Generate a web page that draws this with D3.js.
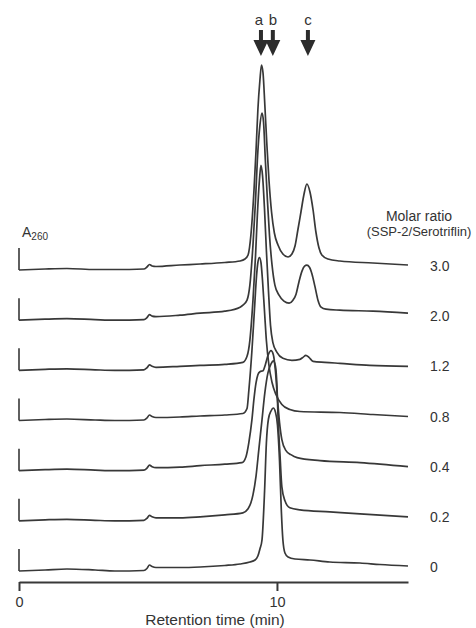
<!DOCTYPE html>
<html><head><meta charset="utf-8">
<script src="https://cdn.jsdelivr.net/npm/d3@7"></script>
<style>
body{margin:0;background:#fff}
svg{display:block}
text{font-family:"Liberation Sans",Arial,Helvetica,sans-serif;fill:#333}
</style>
</head><body>
<svg id="chart" width="476" height="628"></svg>
<script>
// ---- data (time in min, absorbance in arbitrary A260 units above each trace's baseline) ----
const ratios = ["3.0", "2.0", "1.2", "0.8", "0.4", "0.2", "0"];
const xTicks = [0, 10];
const peakLabels = ["a", "b", "c"];
const peakTimes = [9.38, 9.84, 11.20];

const trace_3_0 = [[0,0],[1.01,1],[1.86,1.5],[2.95,0.5],[3.72,0.5],[4.84,1],[4.96,3],[5.06,5.5],[5.16,4],[5.31,3.5],[6.24,5],[7.02,6],[7.98,7.5],[8.57,9],[8.76,11],[8.88,15],[8.99,35],[9.11,80],[9.19,120],[9.26,160],[9.34,190],[9.40,205],[9.46,197],[9.53,165],[9.61,125],[9.69,90],[9.79,58],[9.90,37],[10.04,25],[10.23,16],[10.43,13],[10.58,16],[10.70,24],[10.81,40],[10.93,58],[11.05,76],[11.16,86],[11.28,78],[11.40,60],[11.51,38],[11.63,22],[11.74,15],[11.98,11],[12.44,9],[13.72,7],[15.08,5]];
const trace_2_0 = [[0,0],[1.01,1],[1.86,1.5],[2.95,0.5],[3.72,0],[4.84,0.5],[4.96,2.5],[5.06,5.5],[5.16,4],[5.31,3.5],[6.24,5],[7.02,7],[7.98,9],[8.57,13],[8.68,15],[8.84,20],[8.95,35],[9.07,75],[9.17,120],[9.24,160],[9.34,195],[9.42,207],[9.48,198],[9.55,160],[9.63,120],[9.71,85],[9.81,55],[9.92,35],[10.08,25],[10.27,19],[10.47,17],[10.62,20],[10.74,26],[10.85,38],[10.97,49],[11.07,54],[11.16,55],[11.26,53],[11.36,46],[11.47,34],[11.59,20],[11.71,13],[11.90,11],[12.44,10],[13.72,9],[15.08,7]];
const trace_1_2 = [[0,0],[1.01,1],[1.86,1.5],[2.95,0.5],[3.72,0],[4.84,0.5],[4.96,2.5],[5.06,5.5],[5.16,4],[5.31,3],[6.24,4],[7.02,5],[7.98,6],[8.68,8],[8.84,14],[8.95,30],[9.07,70],[9.17,115],[9.24,155],[9.32,190],[9.38,205],[9.44,195],[9.52,160],[9.59,120],[9.67,80],[9.75,45],[9.84,28],[10.00,18],[10.23,12],[10.58,10],[10.89,11],[11.01,13],[11.12,15],[11.24,13],[11.40,9],[11.86,8],[12.44,7],[13.60,5],[15.08,4]];
const trace_0_8 = [[0,0],[1.01,1],[1.86,1.5],[2.95,0.5],[3.72,0],[4.84,0.5],[4.96,2.5],[5.06,5.5],[5.16,4],[5.31,3],[6.24,3.5],[7.02,4.5],[7.98,5.5],[8.68,7],[8.84,12],[8.91,30],[9.03,70],[9.13,112],[9.21,145],[9.26,158],[9.32,163],[9.38,158],[9.44,140],[9.52,108],[9.59,80],[9.69,55],[9.81,38],[9.96,26],[10.19,16],[10.50,11],[10.89,9],[12.44,8],[13.72,6],[15.08,4]];
const trace_0_4 = [[0,0],[1.01,1],[1.86,1.5],[2.95,0.5],[3.72,0],[4.84,0.5],[4.96,2.5],[5.06,5.5],[5.16,4],[5.31,3],[6.24,3.5],[7.02,5],[7.98,6.5],[8.64,8],[8.80,14],[8.91,28],[9.03,51],[9.11,72],[9.19,88],[9.26,96],[9.34,99],[9.46,100],[9.55,106],[9.65,115],[9.77,120],[9.86,116],[9.94,100],[10.02,72],[10.10,48],[10.19,31],[10.35,20],[10.54,16],[10.78,13],[11.67,10],[13.22,8],[15.08,4]];
const trace_0_2 = [[0,0],[1.01,1],[1.86,1.5],[2.95,0.5],[3.72,0],[4.84,0.5],[4.96,2.5],[5.06,5.5],[5.16,4],[5.31,3],[6.24,3],[7.02,4],[7.98,6],[8.68,8],[8.88,12],[8.99,18],[9.07,26],[9.19,45],[9.30,72],[9.42,101],[9.53,128],[9.65,148],[9.77,157],[9.86,160],[9.94,155],[10.00,135],[10.04,105],[10.12,65],[10.19,34],[10.31,20],[10.50,13],[10.89,11],[12.05,9],[13.22,7],[15.08,4]];
const trace_0 = [[0,0],[1.01,1],[1.86,2],[2.95,1],[3.72,0],[4.84,0.5],[4.96,2.5],[5.06,6],[5.16,4.5],[5.31,3.5],[6.24,3.5],[7.02,4],[7.98,5.5],[8.57,7],[8.95,9],[9.15,11],[9.26,15],[9.34,22],[9.42,31],[9.52,80],[9.59,128],[9.67,152],[9.77,160],[9.86,163],[9.94,159],[10.02,146],[10.10,110],[10.17,60],[10.23,31],[10.31,18],[10.43,14],[10.70,12],[11.28,11],[12.05,9],[13.22,8],[13.99,6.5],[15.08,5]];

const traces = [trace_3_0, trace_2_0, trace_1_2, trace_0_8, trace_0_4, trace_0_2, trace_0];

// ---- layout ----
const svg = d3.select("#chart");
const x = d3.scaleLinear().domain([0, 15.08]).range([19, 408]);
const offset = d3.scalePoint().domain(ratios).range([270, 571]);
const h = d3.scaleLinear().domain([0, 100]).range([0, 100]);
const ink = "#383838";

const line = d3.line()
  .x(d => x(d[0]))
  .curve(d3.curveMonotoneX);

ratios.forEach((r, i) => {
  const y0 = offset(r);
  const g = svg.append("g");
  g.append("line")
    .attr("x1", x(0)).attr("x2", x(0))
    .attr("y1", y0).attr("y2", y0 - h(22))
    .attr("stroke", ink).attr("stroke-width", 1.6);
  g.append("path")
    .datum(traces[i])
    .attr("d", line.y(d => y0 - h(d[1])))
    .attr("fill", "none")
    .attr("stroke", ink)
    .attr("stroke-width", 1.7)
    .attr("stroke-linejoin", "round");
  g.append("text")
    .attr("x", 430).attr("y", y0 + 1)
    .attr("font-size", 14)
    .text(r);
});

// x axis
const axis = d3.axisBottom(x).tickValues(xTicks).tickSize(9).tickSizeOuter(0).tickFormat(d3.format("d"));
const ax = svg.append("g").attr("transform", "translate(0,582)").call(axis);
ax.select(".domain").attr("stroke", ink).attr("stroke-width", 2.2);
ax.selectAll(".tick line").attr("stroke", ink).attr("stroke-width", 2);
ax.selectAll(".tick text").attr("font-size", 14.5).attr("fill", "#333").attr("dy", "0.9em")
  .style("font-family", '"Liberation Sans",Arial,sans-serif');

svg.append("text").attr("x", 215).attr("y", 625).attr("text-anchor", "middle")
  .attr("font-size", 15.5).text("Retention time (min)");

// y label
const yl = svg.append("text").attr("x", 22).attr("y", 237).attr("font-size", 14);
yl.append("tspan").text("A");
yl.append("tspan").attr("font-size", 10).attr("dy", 3).text("260");

// legend title
svg.append("text").attr("x", 419).attr("y", 221).attr("text-anchor", "middle")
  .attr("font-size", 14).text("Molar ratio");
svg.append("text").attr("x", 419).attr("y", 236).attr("text-anchor", "middle")
  .attr("font-size", 13).text("(SSP-2/Serotriflin)");

// peak arrows
peakLabels.forEach((lab, i) => {
  const px = x(peakTimes[i]);
  svg.append("path")
    .attr("d", `M${px-2},30 L${px+2},30 L${px+2},40 L${px+7.5},40 L${px},56 L${px-7.5},40 L${px-2},40 Z`)
    .attr("fill", "#2c2c2c");
  svg.append("text").attr("x", px - (lab === "a" ? 2 : 0)).attr("y", 25)
    .attr("text-anchor", "middle").attr("font-size", 15).text(lab);
});
</script>
</body></html>
